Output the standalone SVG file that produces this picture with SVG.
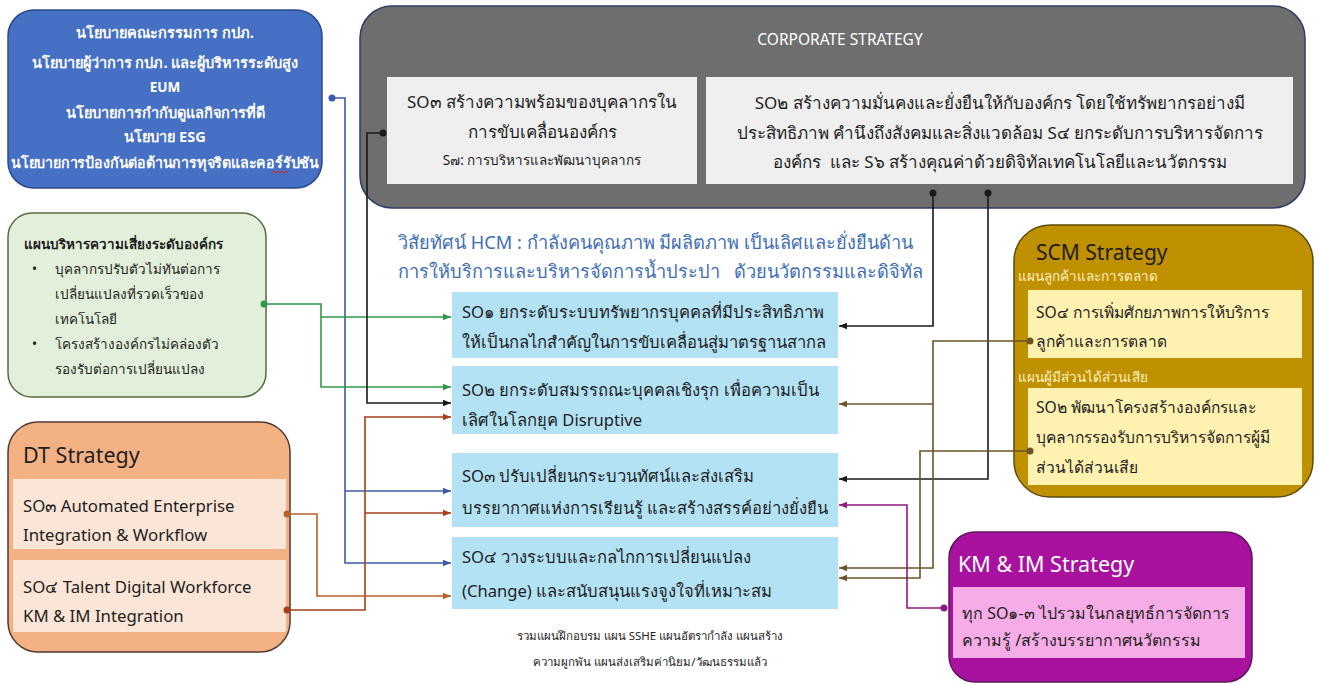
<svg xmlns="http://www.w3.org/2000/svg" width="1319" height="684" viewBox="0 0 1319 684">
<style>
text{font-family:"Noto Sans","DejaVu Sans",sans-serif;}
.w{fill:#fff;}
.d{fill:#1e1e1e;}
.c{text-anchor:middle;}
.b{font-weight:bold;}
.f14{font-size:14.5px;}
.f13{font-size:13.5px;}
.f12{font-size:11.5px;}
.cs{font-size:17px;}
.ce{font-size:16.6px;}
.dt{font-size:16.8px;}
.scm{font-size:15.6px;}
.km{font-size:16px;}
.ln{fill:none;stroke-width:1.6;}
</style>
<defs>
<marker id="mBlue" viewBox="0 0 10 10" refX="10" refY="5" markerWidth="8" markerHeight="8" orient="auto" markerUnits="userSpaceOnUse"><path d="M0,1 L10,5 L0,9 z" fill="#3c5aa6"/></marker>
<marker id="mGreen" viewBox="0 0 10 10" refX="10" refY="5" markerWidth="8" markerHeight="8" orient="auto" markerUnits="userSpaceOnUse"><path d="M0,1 L10,5 L0,9 z" fill="#2f9a48"/></marker>
<marker id="mBlack" viewBox="0 0 10 10" refX="10" refY="5" markerWidth="8" markerHeight="8" orient="auto" markerUnits="userSpaceOnUse"><path d="M0,1 L10,5 L0,9 z" fill="#1a1a1a"/></marker>
<marker id="mRust" viewBox="0 0 10 10" refX="10" refY="5" markerWidth="8" markerHeight="8" orient="auto" markerUnits="userSpaceOnUse"><path d="M0,1 L10,5 L0,9 z" fill="#a3401c"/></marker>
<marker id="mOrange" viewBox="0 0 10 10" refX="10" refY="5" markerWidth="8" markerHeight="8" orient="auto" markerUnits="userSpaceOnUse"><path d="M0,1 L10,5 L0,9 z" fill="#b8602c"/></marker>
<marker id="mOlive" viewBox="0 0 10 10" refX="10" refY="5" markerWidth="8" markerHeight="8" orient="auto" markerUnits="userSpaceOnUse"><path d="M0,1 L10,5 L0,9 z" fill="#6b5426"/></marker>
<marker id="mPurple" viewBox="0 0 10 10" refX="10" refY="5" markerWidth="8" markerHeight="8" orient="auto" markerUnits="userSpaceOnUse"><path d="M0,1 L10,5 L0,9 z" fill="#8e1a82"/></marker>
</defs>
<rect width="1319" height="684" fill="#fff"/>

<g id="policy">
<rect x="8" y="10" width="314" height="178" rx="26" fill="#4670c4" stroke="#2c4a8a" stroke-width="1.5"/>
<text class="w b f14 c" x="165" y="38">นโยบายคณะกรรมการ กปภ.</text>
<text class="w b f14 c" x="165" y="68">นโยบายผู้ว่าการ กปภ. และผู้บริหารระดับสูง</text>
<text class="w b f13 c" x="165" y="92">EUM</text>
<text class="w b f14 c" x="165" y="118">นโยบายการกำกับดูแลกิจการที่ดี</text>
<text class="w b f14 c" x="165" y="142">นโยบาย ESG</text>
<text class="w b f14 c" x="165" y="168" textLength="308" lengthAdjust="spacingAndGlyphs">นโยบายการป้องกันต่อต้านการทุจริตและคอร์รัปชัน</text>
<path d="M272,173 l2,-2 l2,2 l2,-2 l2,2 l2,-2 l2,2 l2,-2 l2,2" fill="none" stroke="#e02020" stroke-width="1"/>
</g>

<g id="corporate">
<rect x="360" y="6" width="945" height="202" rx="32" fill="#6e6e6e" stroke="#2f3d66" stroke-width="1.5"/>
<text class="w c" style="font-size:15.5px" x="840" y="45">CORPORATE STRATEGY</text>
<rect x="387" y="77" width="310" height="107" fill="#efefef"/>
<text class="d cs c" x="542" y="108">SO๓ สร้างความพร้อมของบุคลากรใน</text>
<text class="d cs c" x="542" y="138">การขับเคลื่อนองค์กร</text>
<text class="d f13 c" x="542" y="165">S๗: การบริหารและพัฒนาบุคลากร</text>
<rect x="706" y="77" width="587" height="107" fill="#efefef"/>
<text class="d cs c" x="1000" y="109">SO๒ สร้างความมั่นคงและยั่งยืนให้กับองค์กร โดยใช้ทรัพยากรอย่างมี</text>
<text class="d cs c" x="1000" y="139">ประสิทธิภาพ คำนึงถึงสังคมและสิ่งแวดล้อม S๔ ยกระดับการบริหารจัดการ</text>
<text class="d cs c" x="1000" y="168" xml:space="preserve">องค์กร  และ S๖ สร้างคุณค่าด้วยดิจิทัลเทคโนโลยีและนวัตกรรม</text>
</g>

<g id="risk">
<rect x="8" y="213" width="258" height="184" rx="24" fill="#e2efda" stroke="#5a6b40" stroke-width="1.5"/>
<text class="d b f13" x="24" y="249">แผนบริหารความเสี่ยงระดับองค์กร</text>
<text class="d f13" x="32" y="274">•</text>
<text class="d f13" x="55" y="274">บุคลากรปรับตัวไม่ทันต่อการ</text>
<text class="d f13" x="55" y="299">เปลี่ยนแปลงที่รวดเร็วของ</text>
<text class="d f13" x="55" y="324">เทคโนโลยี</text>
<text class="d f13" x="32" y="349">•</text>
<text class="d f13" x="55" y="349">โครงสร้างองค์กรไม่คล่องตัว</text>
<text class="d f13" x="55" y="374">รองรับต่อการเปลี่ยนแปลง</text>
</g>

<g id="dt">
<rect x="8" y="422" width="282" height="230" rx="30" fill="#f4b183" stroke="#4f3a33" stroke-width="1.5"/>
<text class="d" style="font-size:21.5px" x="23" y="463">DT Strategy</text>
<rect x="13" y="479" width="273" height="70" fill="#fbe5d6"/>
<text class="d dt" x="23" y="512">SO๓ Automated Enterprise</text>
<text class="d dt" x="23" y="541">Integration &amp; Workflow</text>
<rect x="13" y="560" width="273" height="72" fill="#fbe5d6"/>
<text class="d dt" x="23" y="593">SO๔ Talent Digital Workforce</text>
<text class="d dt" x="23" y="622">KM &amp; IM Integration</text>
</g>

<g id="vision">
<text fill="#3d6db3" x="398" y="249" style="font-size:18.2px">วิสัยทัศน์ HCM : กำลังคนคุณภาพ มีผลิตภาพ เป็นเลิศและยั่งยืนด้าน</text>
<text fill="#3d6db3" x="398" y="278" style="font-size:18.2px" xml:space="preserve">การให้บริการและบริหารจัดการน้ำประปา   ด้วยนวัตกรรมและดิจิทัล</text>
</g>

<g id="so1">
<rect x="452" y="292" width="386" height="66" fill="#b2e2f4"/>
<text class="d ce" x="462" y="318">SO๑ ยกระดับระบบทรัพยากรบุคคลที่มีประสิทธิภาพ</text>
<text class="d ce" x="462" y="348">ให้เป็นกลไกสำคัญในการขับเคลื่อนสู่มาตรฐานสากล</text>
</g>
<g id="so2">
<rect x="452" y="366" width="386" height="68" fill="#b2e2f4"/>
<text class="d ce" x="462" y="396">SO๒ ยกระดับสมรรถณะบุคคลเชิงรุก เพื่อความเป็น</text>
<text class="d ce" x="462" y="426">เลิศในโลกยุค Disruptive</text>
</g>
<g id="so3">
<rect x="452" y="453" width="386" height="74" fill="#b2e2f4"/>
<text class="d ce" x="462" y="482">SO๓ ปรับเปลี่ยนกระบวนทัศน์และส่งเสริม</text>
<text class="d ce" x="462" y="514">บรรยากาศแห่งการเรียนรู้ และสร้างสรรค์อย่างยั่งยืน</text>
</g>
<g id="so4">
<rect x="452" y="537" width="386" height="72" fill="#b2e2f4"/>
<text class="d ce" x="462" y="563">SO๔ วางระบบและกลไกการเปลี่ยนแปลง</text>
<text class="d ce" x="462" y="597">(Change) และสนับสนุนแรงจูงใจที่เหมาะสม</text>
</g>

<g id="note">
<text class="d f12 c" x="650" y="640">รวมแผนฝึกอบรม แผน SSHE แผนอัตรากำลัง แผนสร้าง</text>
<text class="d f12 c" x="650" y="666">ความผูกพัน แผนส่งเสริมค่านิยม/วัฒนธรรมแล้ว</text>
</g>

<g id="scm">
<rect x="1014" y="225" width="299" height="272" rx="36" fill="#bf9000" stroke="#5c4a10" stroke-width="1.5"/>
<text class="d" style="font-size:21px" x="1036" y="260">SCM Strategy</text>
<text class="f13" fill="#fff2c0" x="1018" y="281">แผนลูกค้าและการตลาด</text>
<rect x="1028" y="290" width="274" height="68" fill="#fff2b0"/>
<text class="d scm" x="1036" y="318">SO๔ การเพิ่มศักยภาพการให้บริการ</text>
<text class="d scm" x="1036" y="347">ลูกค้าและการตลาด</text>
<text class="f13" fill="#fff2c0" x="1018" y="382">แผนผู้มีส่วนได้ส่วนเสีย</text>
<rect x="1028" y="388" width="274" height="97" fill="#fff2b0"/>
<text class="d scm" x="1036" y="413">SO๒ พัฒนาโครงสร้างองค์กรและ</text>
<text class="d scm" x="1036" y="443">บุคลากรรองรับการบริหารจัดการผู้มี</text>
<text class="d scm" x="1036" y="473">ส่วนได้ส่วนเสีย</text>
</g>

<g id="kmim">
<rect x="949" y="532" width="303" height="150" rx="26" fill="#a8129e" stroke="#5a1a5a" stroke-width="1.5"/>
<text class="w" style="font-size:21.5px" x="958" y="572">KM &amp; IM Strategy</text>
<rect x="953" y="587" width="292" height="71" fill="#f6ace6"/>
<text class="d km" x="962" y="619">ทุก SO๑-๓ ไปรวมในกลยุทธ์การจัดการ</text>
<text class="d km" x="962" y="646">ความรู้ /สร้างบรรยากาศนวัตกรรม</text>
</g>

<g id="connectors">
<path class="ln" stroke="#3c5aa6" d="M332,98 H345 V563 H451" marker-end="url(#mBlue)"/>
<path class="ln" stroke="#3c5aa6" d="M345,491 H451" marker-end="url(#mBlue)"/>
<circle cx="332" cy="98" r="3.5" fill="#3c5aa6"/>

<path class="ln" stroke="#2f9a48" d="M264,304 H321 V387 H451" marker-end="url(#mGreen)"/>
<path class="ln" stroke="#2f9a48" d="M321,317 H451" marker-end="url(#mGreen)"/>
<circle cx="264" cy="304" r="3.5" fill="#2f9a48"/>

<path class="ln" stroke="#1a1a1a" d="M383,133 H367 V403 H451" marker-end="url(#mBlack)"/>
<circle cx="383" cy="133" r="3.5" fill="#1a1a1a"/>

<path class="ln" stroke="#a3401c" d="M287,610 H365 V417 H451" marker-end="url(#mRust)"/>
<path class="ln" stroke="#a3401c" d="M365,513 H451" marker-end="url(#mRust)"/>
<circle cx="287" cy="610" r="3.5" fill="#a3401c"/>

<path class="ln" stroke="#b8602c" d="M287,514 H317 V596 H451" marker-end="url(#mOrange)"/>
<circle cx="287" cy="514" r="3.5" fill="#b8602c"/>

<path class="ln" stroke="#1a1a1a" d="M933,193 V326 H839" marker-end="url(#mBlack)"/>
<circle cx="933" cy="193" r="3.5" fill="#1a1a1a"/>
<path class="ln" stroke="#1a1a1a" d="M988,193 V479 H839" marker-end="url(#mBlack)"/>
<circle cx="988" cy="193" r="3.5" fill="#1a1a1a"/>

<path class="ln" stroke="#6b5426" d="M1030,341 H933 V568 H839" marker-end="url(#mOlive)"/>
<path class="ln" stroke="#6b5426" d="M933,404 H839" marker-end="url(#mOlive)"/>
<circle cx="1030" cy="341" r="3.5" fill="#6b5426"/>
<path class="ln" stroke="#6b5426" d="M1030,451 H920 V578 H839" marker-end="url(#mOlive)"/>
<circle cx="1030" cy="451" r="3.5" fill="#6b5426"/>

<path class="ln" stroke="#8e1a82" d="M944,608 H907 V505 H839" marker-end="url(#mPurple)"/>
<circle cx="944" cy="608" r="3.5" fill="#8e1a82"/>
</g>
</svg>
